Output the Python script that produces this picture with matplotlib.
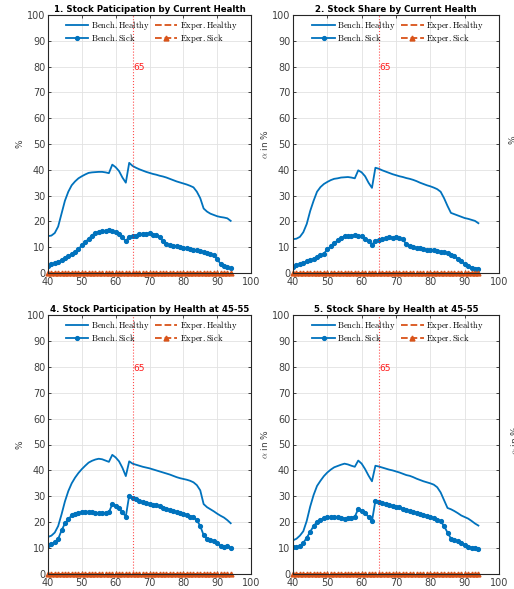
import numpy as np
import matplotlib
matplotlib.use("Agg")
import matplotlib.pyplot as plt

ages = list(range(40, 95))

p1_healthy = [14.3, 14.5, 15.5, 18.0, 23.0, 28.0, 31.5, 34.0, 35.5, 36.7,
              37.5, 38.2, 38.8, 39.0, 39.1, 39.2, 39.2, 39.0, 38.7, 42.0,
              41.0, 39.5, 37.0, 35.0, 42.7, 41.5, 40.8, 40.2, 39.7, 39.2,
              38.8, 38.4, 38.1, 37.7, 37.4, 37.0, 36.5, 36.0, 35.5, 35.1,
              34.7, 34.3, 33.8, 33.2, 31.5, 29.0, 25.0, 23.8, 23.0, 22.5,
              22.0, 21.7, 21.5, 21.2, 20.2]
p1_sick = [2.7, 3.3, 3.8, 4.4, 5.0, 5.7, 6.5, 7.3, 8.2, 9.2,
           10.8, 12.0, 13.2, 14.5, 15.6, 16.0, 16.1, 16.3, 16.6, 16.3,
           15.8, 15.0, 13.8, 12.3, 14.1, 14.3, 14.5, 15.0, 15.3, 15.2,
           15.5, 14.9, 14.6, 13.8, 12.3, 11.3, 10.8, 10.5, 10.3, 10.0,
           9.8, 9.7, 9.4, 9.1, 8.8, 8.5, 8.2, 7.7, 7.2, 6.8,
           5.5, 3.5, 2.6, 2.2, 1.9]

p2_healthy = [13.1, 13.3, 14.0, 15.8, 19.0, 24.0, 28.0, 31.5, 33.3, 34.5,
              35.3, 36.0, 36.5, 36.7, 37.0, 37.1, 37.2, 37.0, 36.7, 39.8,
              39.0, 37.5, 35.0, 33.0, 40.8, 40.4, 39.8, 39.3, 38.8, 38.3,
              37.9, 37.5, 37.2, 36.8, 36.5, 36.1, 35.6, 35.0, 34.5, 34.0,
              33.6, 33.1, 32.5, 31.5, 29.0, 26.0, 23.3, 22.8, 22.3, 21.8,
              21.3, 21.0, 20.6, 20.2, 19.3]
p2_sick = [2.3, 3.0, 3.3, 3.8, 4.5, 5.0, 5.5, 6.2, 6.8, 7.5,
           9.2, 10.3, 11.5, 12.7, 13.7, 14.2, 14.2, 14.4, 14.8, 14.5,
           14.2, 13.3, 12.3, 11.0, 12.5, 12.7, 13.0, 13.4, 13.9, 13.7,
           13.9, 13.4, 13.0, 11.2, 10.3, 9.9, 9.7, 9.6, 9.4, 9.0,
           8.9, 8.9, 8.5, 8.3, 8.1, 7.6, 7.1, 6.5, 5.6, 4.8,
           3.3, 2.6, 2.1, 1.6, 1.7]

p4_healthy = [14.3, 14.8, 16.0, 18.5, 23.0, 28.0, 32.0, 35.0, 37.2, 39.0,
              40.5, 41.8, 43.0, 43.7, 44.2, 44.5, 44.3, 43.8, 43.3, 46.0,
              45.0, 43.5, 41.0, 37.8, 43.5, 42.6, 42.2, 41.8, 41.4, 41.1,
              40.8, 40.4, 40.0, 39.6, 39.2, 38.8, 38.4, 37.9, 37.4, 37.0,
              36.7, 36.4, 36.0, 35.4, 34.3, 32.3, 27.0, 25.8, 25.0, 24.2,
              23.3, 22.5, 21.8, 20.8, 19.6]
p4_sick = [11.3, 11.5, 12.2, 13.5, 16.8, 19.5, 21.2, 22.6, 23.2, 23.5,
           23.8, 24.0, 24.1, 24.0, 23.7, 23.4, 23.5, 23.6, 23.8, 27.0,
           26.3, 25.5, 23.8, 22.2, 30.3, 29.5, 28.8, 28.2, 27.8, 27.4,
           27.1, 26.8, 26.5, 26.1, 25.6, 25.2, 24.8, 24.4, 24.0, 23.6,
           23.2, 22.8, 22.2, 22.1, 20.8, 18.5, 15.0, 13.6, 13.2, 12.7,
           11.8, 10.9, 10.5, 10.7, 10.1]

p5_healthy = [13.0, 13.6, 14.8, 16.5, 20.5, 26.0, 30.5, 34.0, 36.0, 37.8,
              39.2, 40.3, 41.2, 41.7, 42.2, 42.6, 42.3, 41.8, 41.4, 43.8,
              42.6, 40.5, 38.0, 35.8, 41.8, 41.5, 41.1, 40.7, 40.3, 40.0,
              39.6, 39.2, 38.7, 38.2, 37.9, 37.4, 36.8, 36.3, 35.8, 35.4,
              35.0, 34.5, 33.5, 31.5, 28.5, 25.5, 25.0, 24.3, 23.5, 22.6,
              22.0, 21.4, 20.5, 19.5, 18.7]
p5_sick = [10.3, 10.4, 10.8, 12.0, 14.0, 16.3, 18.5, 20.1, 21.0, 21.6,
           21.9, 22.1, 22.1, 22.0, 21.8, 21.4, 21.6, 21.8, 22.1, 25.1,
           24.3, 23.5, 22.0, 20.4, 28.3, 27.9, 27.4, 27.0, 26.6, 26.2,
           26.0, 25.7, 25.2, 24.8, 24.4, 24.1, 23.7, 23.3, 22.9, 22.5,
           22.1, 21.6, 21.0, 20.4, 18.5, 16.0, 13.7, 13.1, 12.6, 12.1,
           11.3, 10.6, 10.2, 10.1, 9.5]

exper_healthy = [0.0] * len(ages)
exper_sick = [0.0] * len(ages)

titles = ["1. Stock Paticipation by Current Health",
          "2. Stock Share by Current Health",
          "4. Stock Participation by Health at 45-55",
          "5. Stock Share by Health at 45-55"]
ylabels = ["%", r"$\alpha$ in %", "%", r"$\alpha$ in %"]
legend_labels = ["Bench.Healthy", "Bench.Sick", "Exper.Healthy", "Exper.Sick"]
retire_age = 65

plt.rcParams['mathtext.fontset'] = 'cm'
BLUE = '#0072BD'
ORANGE = '#D95319'
AXC = '#262626'
TXC = '#404040'

fig = plt.figure(figsize=(5.14, 5.89), dpi=100)
W, H = 514, 589
boxes = [(48, 15, 251, 273), (293, 15, 499, 273),
         (48, 315, 251, 574), (293, 315, 499, 574)]
data = [(p1_healthy, p1_sick), (p2_healthy, p2_sick),
        (p4_healthy, p4_sick), (p5_healthy, p5_sick)]

for i, (box, (hh, ss)) in enumerate(zip(boxes, data)):
    l, t, r, b = box
    ax = fig.add_axes([l / W, 1 - b / H, (r - l) / W, (b - t) / H])
    h1, = ax.plot(ages, hh, '-', color=BLUE, lw=1.3)
    h2, = ax.plot(ages, ss, '-', color=BLUE, lw=1.3, marker='.', ms=5.5)
    h3, = ax.plot(ages, exper_healthy, '--', color=ORANGE, lw=1.3,
                  clip_on=False)
    h4, = ax.plot(ages, exper_sick, '--', color=ORANGE, lw=1.3, marker='^',
                  ms=3.5, clip_on=False)
    ax.axvline(retire_age, color='red', ls=':', lw=0.8, alpha=0.7)
    ax.text(retire_age + 0.2, 79.5, str(retire_age), color='red',
            fontsize=6.5, ha='left', va='center', alpha=0.9)
    ax.set_xlim(40, 100)
    ax.set_ylim(0, 100)
    ax.set_xticks(range(40, 101, 10))
    ax.set_yticks(range(0, 101, 10))
    ax.grid(True, color='#e2e2e2', lw=0.6)
    ax.set_axisbelow(True)
    ax.tick_params(direction='in', top=True, right=True, labelsize=7,
                   length=2.5, width=0.6, color=AXC, labelcolor=TXC)
    ax.tick_params(axis='x', pad=3)
    ax.tick_params(axis='y', pad=2)
    for sp in ax.spines.values():
        sp.set_color(AXC)
        sp.set_linewidth(0.8)
    ax.set_title(titles[i], fontsize=6.2, fontweight='bold', pad=2.5)
    ax.set_ylabel(ylabels[i], fontsize=6.5, color=TXC, labelpad=1.5)
    ax.legend([h1, h2, h3, h4],
              [r"$\mathrm{" + lab + "}$" for lab in legend_labels],
              ncol=2, frameon=False, fontsize=6.2, loc='upper center',
              bbox_to_anchor=(0.51, 1.005), handlelength=2.6,
              columnspacing=0.6, handletextpad=0.3, labelspacing=0.0,
              borderaxespad=0.2)

fig.text(509 / W, 1 - 140 / H, "%", rotation=90, fontsize=6.5, color=TXC,
         ha='left', va='center')
fig.text(509 / W, 1 - 440 / H, r"$\alpha$ in %", rotation=90, fontsize=6.5,
         color=TXC, ha='left', va='center')

fig.savefig("out.png", dpi=100)
